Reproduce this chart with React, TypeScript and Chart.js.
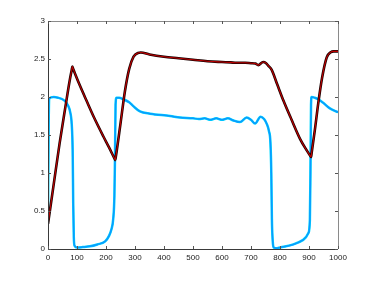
import React, { useEffect, useRef } from "react";
import { Chart, registerables } from "chart.js";

Chart.register(...registerables);

// Dark (black/red) series
const redX = [0, 20, 40, 60, 75, 82, 84, 86, 95, 110, 133, 160, 191, 210, 230, 232, 234, 250, 265, 280, 295, 310, 320, 350, 400, 450, 500, 550, 600, 630, 650, 680, 700, 715, 725, 742, 752, 760, 771, 790, 811, 840, 869, 890, 905, 907, 909, 920, 932, 945, 961, 975, 985, 1000];
const redY = [0.33, 0.86, 1.39, 1.87, 2.22, 2.36, 2.4, 2.38, 2.29, 2.15, 1.95, 1.72, 1.48, 1.34, 1.185, 1.17, 1.215, 1.65, 2.07, 2.37, 2.53, 2.58, 2.585, 2.56, 2.53, 2.51, 2.49, 2.47, 2.46, 2.455, 2.45, 2.45, 2.445, 2.44, 2.42, 2.46, 2.445, 2.41, 2.36, 2.17, 1.96, 1.7, 1.45, 1.31, 1.222, 1.21, 1.26, 1.56, 1.92, 2.25, 2.52, 2.59, 2.6, 2.6];

// Blue series
const blueX = [0, 2, 4, 20, 35, 50, 60, 70, 76, 82, 85, 87, 89, 92, 100, 120, 145, 170, 197, 210, 218, 225, 229, 231, 233, 236, 245, 260, 280, 294, 317, 352, 421, 455, 500, 520, 540, 560, 580, 600, 620, 640, 662, 685, 700, 714, 733, 745, 754, 762, 767, 770, 772, 775, 778, 790, 800, 846, 880, 898, 903, 905, 907, 909, 920, 932, 950, 972, 1000];
const blueY = [0.4, 1.5, 1.98, 2.0, 1.99, 1.97, 1.94, 1.88, 1.81, 1.63, 1.3, 0.6, 0.15, 0.04, 0.02, 0.025, 0.035, 0.06, 0.1, 0.17, 0.25, 0.4, 0.7, 1.2, 1.9, 1.99, 1.99, 1.97, 1.93, 1.88, 1.81, 1.78, 1.75, 1.73, 1.72, 1.71, 1.72, 1.70, 1.72, 1.70, 1.72, 1.69, 1.67, 1.73, 1.70, 1.65, 1.74, 1.71, 1.65, 1.55, 1.4, 1.0, 0.4, 0.1, 0.02, 0.01, 0.02, 0.06, 0.12, 0.21, 0.38, 1.0, 1.9, 2.0, 1.99, 1.97, 1.92, 1.85, 1.8];

const xTicks = [0, 100, 200, 300, 400, 500, 600, 700, 800, 900, 1000];
const yTicks = [0, 0.5, 1, 1.5, 2, 2.5, 3];

const toPts = (xs: number[], ys: number[]) => xs.map((x, i) => ({ x, y: ys[i] }));

const boxPlugin = {
  id: "boxTicks",
  afterDatasetsDraw(chart: any) {
    const { ctx, chartArea: a, scales } = chart;
    const xs = scales.x;
    const ys = scales.y;
    ctx.save();
    ctx.lineWidth = 1;
    ctx.strokeStyle = "#3a3a3a";
    ctx.beginPath();
    ctx.moveTo(a.left + 0.5, a.top);
    ctx.lineTo(a.left + 0.5, a.bottom + 0.5);
    ctx.lineTo(a.right, a.bottom + 0.5);
    ctx.stroke();
    ctx.strokeStyle = "#8a8a8a";
    ctx.beginPath();
    ctx.moveTo(a.left, a.top + 0.5);
    ctx.lineTo(a.right + 0.5, a.top + 0.5);
    ctx.lineTo(a.right + 0.5, a.bottom);
    ctx.stroke();
    const t = 3;
    ctx.strokeStyle = "#555";
    ctx.beginPath();
    xTicks.forEach((v) => {
      const px = Math.round(xs.getPixelForValue(v)) + 0.5;
      ctx.moveTo(px, a.bottom);
      ctx.lineTo(px, a.bottom - t);
      ctx.moveTo(px, a.top);
      ctx.lineTo(px, a.top + t);
    });
    yTicks.forEach((v) => {
      const py = Math.round(ys.getPixelForValue(v)) + 0.5;
      ctx.moveTo(a.left, py);
      ctx.lineTo(a.left + t, py);
      ctx.moveTo(a.right, py);
      ctx.lineTo(a.right - t, py);
    });
    ctx.stroke();
    ctx.restore();
  },
};

export default function App() {
  const ref = useRef<HTMLCanvasElement>(null);
  useEffect(() => {
    if (!ref.current) return;
    const font = { family: "'Liberation Sans', Arial, sans-serif", size: 8 };
    const line = (xs: number[], ys: number[], color: string, w: number) => ({
      data: toPts(xs, ys),
      borderColor: color,
      borderWidth: w,
      pointRadius: 0,
      cubicInterpolationMode: "monotone",
    });
    const chart = new Chart(ref.current, {
      type: "line",
      data: {
        // dataset 0 is drawn on top
        datasets: [
          line(redX, redY, "#c00000", 1.1),
          line(redX, redY, "#1a0000", 2.6),
          line(blueX, blueY, "#0a9aff", 1.5),
          line(blueX, blueY, "#00d8ff", 2.5),
        ],
      } as any,
      options: {
        animation: false,
        responsive: false,
        events: [],
        layout: { padding: { top: 21, right: 36, left: 0, bottom: 0 } },
        plugins: { legend: { display: false }, tooltip: { enabled: false } },
        scales: {
          x: {
            type: "linear",
            min: 0,
            max: 1000,
            afterFit: (s: any) => {
              s.height = 32;
            },
            afterBuildTicks: (s: any) => {
              s.ticks = xTicks.map((v) => ({ value: v }));
            },
            ticks: {
              padding: 4,
              color: "#222",
              font,
              maxRotation: 0,
              autoSkip: false,
              callback: (v: any) => String(v),
            },
            grid: { display: false, drawTicks: false },
            border: { display: false },
          },
          y: {
            type: "linear",
            min: 0,
            max: 3,
            afterFit: (s: any) => {
              s.width = 48;
            },
            afterBuildTicks: (s: any) => {
              s.ticks = yTicks.map((v) => ({ value: v }));
            },
            ticks: {
              padding: 3,
              color: "#222",
              font,
              autoSkip: false,
              callback: (v: any) => String(v),
            },
            grid: { display: false, drawTicks: false },
            border: { display: false },
          },
        },
      } as any,
      plugins: [boxPlugin],
    });
    return () => chart.destroy();
  }, []);
  return (
    <div style={{ position: "fixed", left: 0, top: 0, width: 374, height: 281, background: "#fff" }}>
      <canvas ref={ref} width={374} height={281} style={{ width: 374, height: 281 }} />
    </div>
  );
}
